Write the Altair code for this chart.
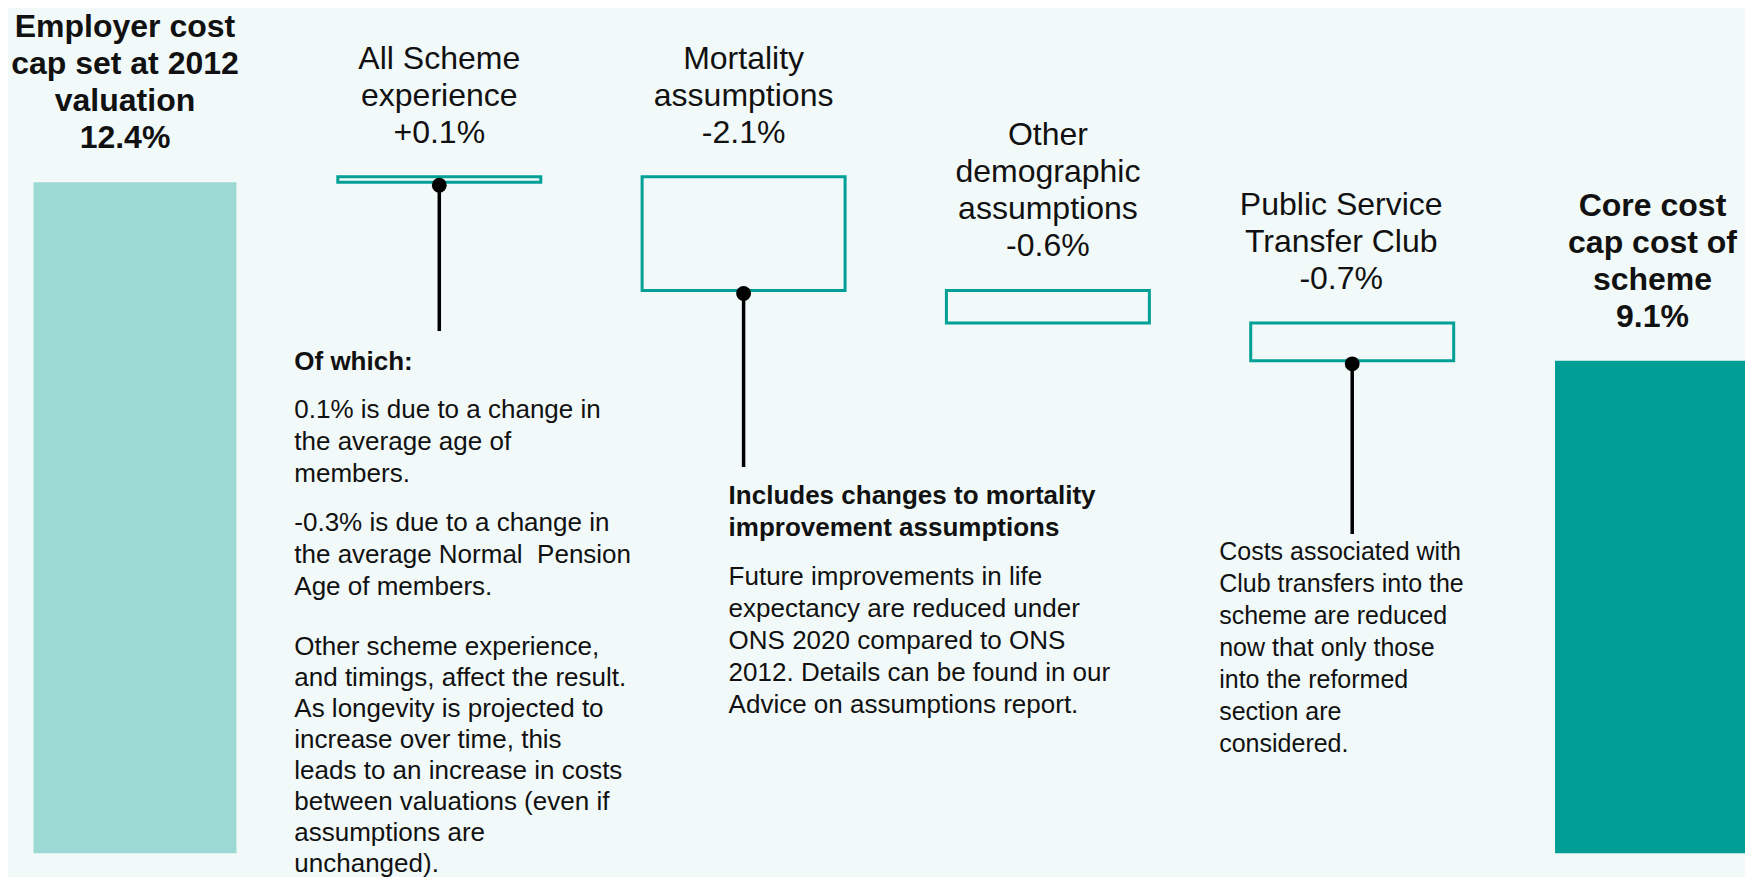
import altair as alt
import pandas as pd

# ---------------- data ----------------
categories = [
    "Employer cost cap set at 2012 valuation",
    "All Scheme experience",
    "Mortality assumptions",
    "Other demographic assumptions",
    "Public Service Transfer Club",
    "Core cost cap cost of scheme",
]
kinds = ["start", "delta", "delta", "delta", "delta", "end"]
values = [12.4, 0.1, -2.1, -0.6, -0.7, 9.1]
header_lines = [
    ["Employer cost", "cap set at 2012", "valuation"],
    ["All Scheme", "experience"],
    ["Mortality", "assumptions"],
    ["Other", "demographic", "assumptions"],
    ["Public Service", "Transfer Club"],
    ["Core cost", "cap cost of", "scheme"],
]

note_scheme_heading = ["Of which:"]
note_scheme_p1 = ["0.1% is due to a change in", "the average age of", "members."]
note_scheme_p2 = ["-0.3% is due to a change in", "the average Normal\u00a0 Pension", "Age of members."]
note_scheme_p3 = [
    "Other scheme experience,",
    "and timings, affect the result.",
    "As longevity is projected to",
    "increase over time, this",
    "leads to an increase in costs",
    "between valuations (even if",
    "assumptions are",
    "unchanged).",
]
note_mort_heading = ["Includes changes to mortality", "improvement assumptions"]
note_mort_p1 = [
    "Future improvements in life",
    "expectancy are reduced under",
    "ONS 2020 compared to ONS",
    "2012. Details can be found in our",
    "Advice on assumptions report.",
]
note_club_p1 = [
    "Costs associated with",
    "Club transfers into the",
    "scheme are reduced",
    "now that only those",
    "into the reformed",
    "section are",
    "considered.",
]

# ------------- build table -------------
rows = []
running = 0.0
for cat, kind, v, hl in zip(categories, kinds, values, header_lines):
    if kind == "start":
        y0, y1 = 0.0, v
        running = v
        lab = f"{v:.1f}%"
    elif kind == "end":
        y0, y1 = 0.0, v
        lab = f"{v:.1f}%"
    else:
        y0, y1 = running, running + v
        running = running + v
        lab = f"{v:+.1f}%"
    rows.append(dict(category=cat, kind=kind, y0=round(y0, 3), y1=round(y1, 3),
                     top=max(y0, y1), bottom=min(y0, y1),
                     header="\n".join(hl + [lab]), nlines=len(hl) + 1))
df = pd.DataFrame(rows)

# ------------- styling / layout -------------
BG = "#F2FAF9"
LIGHT = "#9CD9D5"
DARK = "#009E94"
STROKE = "#00A096"
INK = "#111111"
FONT = "Liberation Sans"
W, H = 1737, 869
HEAD_LH = 37

x_enc = alt.X("category:N", sort=categories, axis=None,
              scale=alt.Scale(domain=categories, range=[25.5, 1750],
                              paddingInner=0.333, paddingOuter=0))
y_scale = alt.Scale(domain=[-0.44, 15.62], nice=False, zero=False)

base = alt.Chart(df)

totals = base.transform_filter("datum.kind != 'delta'").mark_bar(clip=True).encode(
    x=x_enc,
    y=alt.Y("y0:Q", scale=y_scale, axis=None),
    y2="y1:Q",
    color=alt.Color("kind:N", scale=alt.Scale(domain=["start", "end"], range=[LIGHT, DARK]), legend=None),
)

boxes = base.transform_filter("datum.kind == 'delta'").mark_bar(
    fillOpacity=0, stroke=STROKE, strokeWidth=3
).encode(
    x=x_enc,
    y=alt.Y("y0:Q", scale=y_scale, axis=None),
    y2="y1:Q",
)

layers = [totals, boxes]

# headers (first line is placed at y, so lift by the number of lines)
header_dx = {categories[0]: -10, categories[4]: -11, categories[5]: -4}
for i, cat in enumerate(categories):
    bold = kinds[i] != "delta"
    n = len(header_lines[i]) + 1
    layers.append(
        base.transform_filter(alt.datum.category == cat).mark_text(
            font=FONT, fontSize=32, fontWeight="bold" if bold else "normal",
            lineHeight=HEAD_LH, lineBreak="\n", baseline="bottom", align="center",
            dy=-27 - (n - 1) * HEAD_LH, dx=header_dx.get(cat, 0), color=INK,
        ).encode(x=x_enc, y=alt.Y("top:Q", scale=y_scale, axis=None), text="header:N")
    )

# connectors (category, end of line in px)
connectors = {categories[1]: 323, categories[2]: 459, categories[4]: 526}
for cat, yend in connectors.items():
    sub = base.transform_filter(alt.datum.category == cat)
    layers.append(
        sub.mark_rule(color="black", strokeWidth=3.5).encode(
            x=x_enc, y=alt.Y("bottom:Q", scale=y_scale, axis=None), y2=alt.value(yend)
        )
    )
    layers.append(
        sub.mark_circle(size=220, color="black", opacity=1).encode(
            x=x_enc, y=alt.Y("bottom:Q", scale=y_scale, axis=None), yOffset=alt.value(3)
        )
    )

# notes: (category, lines, y top px, dx, size, bold, line height)
notes = [
    (categories[1], note_scheme_heading, 341, -145, 26, True, 32),
    (categories[1], note_scheme_p1, 389, -145, 26, False, 32),
    (categories[1], note_scheme_p2, 502, -145, 26, False, 32),
    (categories[1], note_scheme_p3, 626, -145, 26, False, 31),
    (categories[2], note_mort_heading, 475, -15, 26, True, 32),
    (categories[2], note_mort_p1, 556, -15, 26, False, 32),
    (categories[4], note_club_p1, 532, -133, 25, False, 32),
]
for cat, lines, ytop, dx, size, bold, lh in notes:
    ndf = pd.DataFrame({"category": [cat], "text": ["\n".join(lines)]})
    layers.append(
        alt.Chart(ndf).mark_text(
            font=FONT, fontSize=size, fontWeight="bold" if bold else "normal",
            lineHeight=lh, lineBreak="\n", baseline="top", align="left",
            dx=dx, color=INK,
        ).encode(x=x_enc, y=alt.value(ytop), text="text:N")
    )

chart = alt.layer(*layers).properties(
    width=W, height=H, background=BG, padding=0, autosize="none"
).configure_view(stroke=None)

chart.save("out.html", embed_options={"renderer": "svg", "actions": False})
